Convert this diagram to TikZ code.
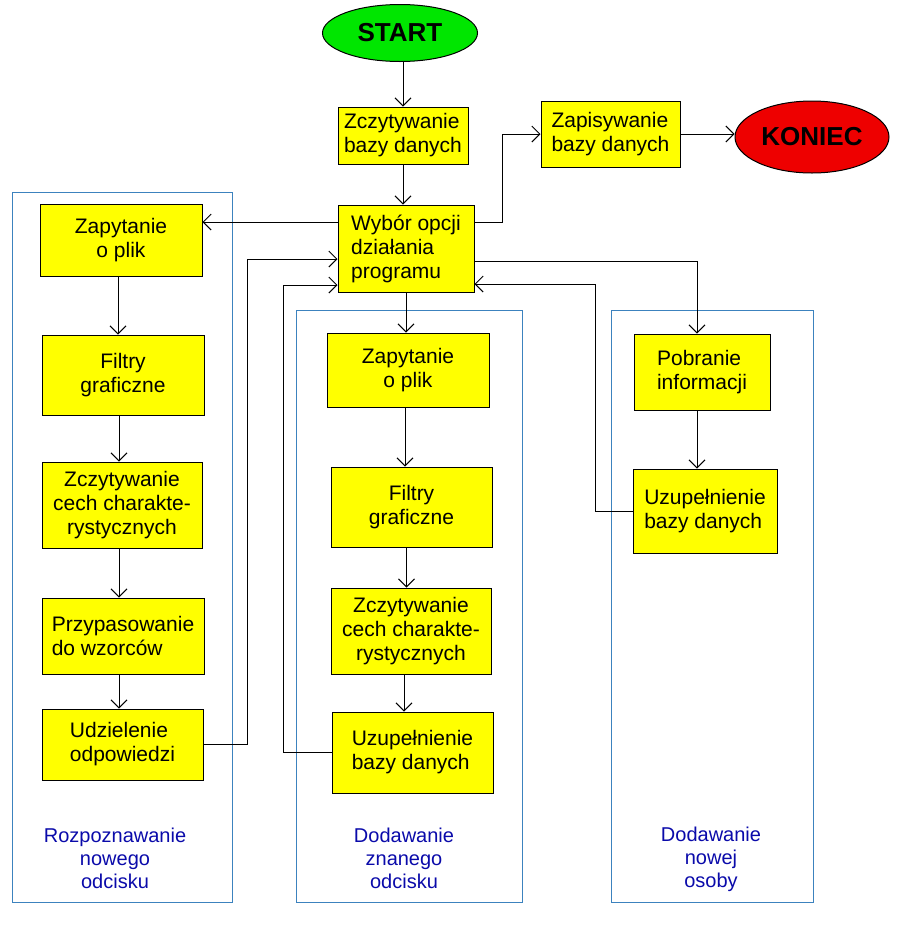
\documentclass[tikz,border=0pt]{standalone}
\usepackage{fontspec}
\setmainfont{Liberation Sans}
\usepackage{tikz}
\usetikzlibrary{arrows.meta}
\usetikzlibrary{shapes,shapes.geometric}
\definecolor{boxyellow}{RGB}{255,255,0}
\definecolor{startgreen}{RGB}{0,230,0}
\definecolor{endred}{RGB}{238,0,0}
\definecolor{framblue}{RGB}{60,130,190}
\definecolor{lblblue}{RGB}{10,10,170}
\tikzset{>={Straight Barb[length=8pt,width=16pt]}}
\tikzset{
  krok/.style={draw, line width=1pt, fill=boxyellow, inner sep=2pt,
    font=\fontsize{21}{24}\selectfont},
  term/.style={draw, line width=1pt, ellipse, inner sep=0pt,
    font=\fontsize{26}{28}\selectfont\bfseries},
  grupa/.style={draw=framblue, line width=1pt},
  opis/.style={text=lblblue, align=center, font=\fontsize{20}{23}\selectfont},
  pol/.style={line width=1pt}
}

\begin{document}
\begin{tikzpicture}[x=1pt,y=-1pt]
      \useasboundingbox (0,0) rectangle (900,930);
      % ramki grup
      \draw[grupa] (12,192) rectangle (232,902);
      \draw[grupa] (296,310) rectangle (522,902);
      \draw[grupa] (611,310) rectangle (813,902);
      \node[opis] (lblL) at (115,858) {Rozpoznawanie\\nowego\\odcisku};
      \node[opis] (lblM) at (404,858) {Dodawanie\\znanego\\odcisku};
      \node[opis] (lblR) at (711,859) {Dodawanie\\nowej\\osoby};
      % start, koniec
      \node[term, fill=startgreen, minimum width=155pt, minimum height=57pt] (start) at (400,33) {START};
      \node[term, fill=endred, minimum width=154pt, minimum height=72pt] (koniec) at (812,137) {KONIEC};
      \node[krok, align=left, minimum width=130pt, minimum height=57pt] (readdb) at (403,135.5) {Zczytywanie\\bazy danych};
      \node[krok, align=left, minimum width=139pt, minimum height=66pt] (writedb) at (610.5,134) {Zapisywanie\\bazy danych};
      \node[krok, align=left, minimum width=136pt, minimum height=87pt] (menu) at (406,248.5) {Wybór opcji\\działania\\programu};
      % lewa kolumna
      \node[krok, align=center, minimum width=162pt, minimum height=72pt] (askL) at (121,240) {Zapytanie\\o plik};
      \node[krok, align=center, minimum width=162pt, minimum height=80pt] (filtL) at (123,375) {Filtry\\graficzne};
      \node[krok, align=center, minimum width=160pt, minimum height=86pt] (featL) at (122,505) {Zczytywanie\\cech charakte-\\rystycznych};
      \node[krok, align=left, minimum width=162pt, minimum height=76pt] (matchL) at (123,636) {Przypasowanie\\do wzorców};
      \node[krok, align=left, minimum width=161pt, minimum height=71pt] (answL) at (122.5,744.5) {Udzielenie\\odpowiedzi};
      % srodkowa kolumna
      \node[krok, align=center, minimum width=162pt, minimum height=74pt] (askM) at (408,370) {Zapytanie\\o plik};
      \node[krok, align=center, minimum width=161pt, minimum height=80pt] (filtM) at (411.5,507) {Filtry\\graficzne};
      \node[krok, align=center, minimum width=160pt, minimum height=86pt] (featM) at (411,631) {Zczytywanie\\cech charakte-\\rystycznych};
      \node[krok, align=left, minimum width=161pt, minimum height=81pt] (saveM) at (412.5,752.5) {Uzupełnienie\\bazy danych};
      % prawa kolumna
      \node[krok, align=left, minimum width=136pt, minimum height=76pt] (infoR) at (702,372) {Pobranie\\informacji};
      \node[krok, align=left, minimum width=144pt, minimum height=84pt] (saveR) at (705,511) {Uzupełnienie\\bazy danych};
      % polaczenia
      \draw[pol,->] (readdb.north |- start.south) -- (readdb.north);
      \draw[pol,->] (readdb.south) -- (readdb.south |- menu.north);
      \draw[pol,->] ([yshift=26.5pt]menu.east) -- ++(28pt,0) |- (writedb.west);
      \draw[pol,->] (writedb.east) -- (writedb.east -| koniec.west);
      \draw[pol,->] ([yshift=26.5pt]menu.west) -- ([yshift=26.5pt]menu.west -| askL.east);
      \draw[pol,->] (menu.south) -- (menu.south |- askM.north);
      \draw[pol,->] ([yshift=-12.5pt]menu.east) -| ([xshift=-5pt]infoR.north);
      \draw[pol,->] (saveR.west) -- ++(-37pt,0) |- ([yshift=-35.5pt]menu.east);
      \draw[pol,->] (answL.east) -- ++(44pt,0) |- ([yshift=-10.5pt]menu.west);
      \draw[pol,->] (saveM.west) -- ++(-48pt,0) |- ([yshift=-36.5pt]menu.west);
      \draw[pol,->] ([xshift=-3pt]askL.south) -- ([xshift=-3pt]askL.south |- filtL.north);
      \draw[pol,->] ([xshift=-4pt]filtL.south) -- ([xshift=-4pt]filtL.south |- featL.north);
      \draw[pol,->] ([xshift=-3pt]featL.south) -- ([xshift=-3pt]featL.south |- matchL.north);
      \draw[pol,->] ([xshift=-4pt]matchL.south) -- ([xshift=-4pt]matchL.south |- answL.north);
      \draw[pol,->] ([xshift=-3pt]askM.south) -- ([xshift=-3pt]askM.south |- filtM.north);
      \draw[pol,->] ([xshift=-5pt]filtM.south) -- ([xshift=-5pt]filtM.south |- featM.north);
      \draw[pol,->] ([xshift=-7pt]featM.south) -- ([xshift=-7pt]featM.south |- saveM.north);
      \draw[pol,->] ([xshift=-5pt]infoR.south) -- ([xshift=-5pt]infoR.south |- saveR.north);
\end{tikzpicture}
\end{document}
